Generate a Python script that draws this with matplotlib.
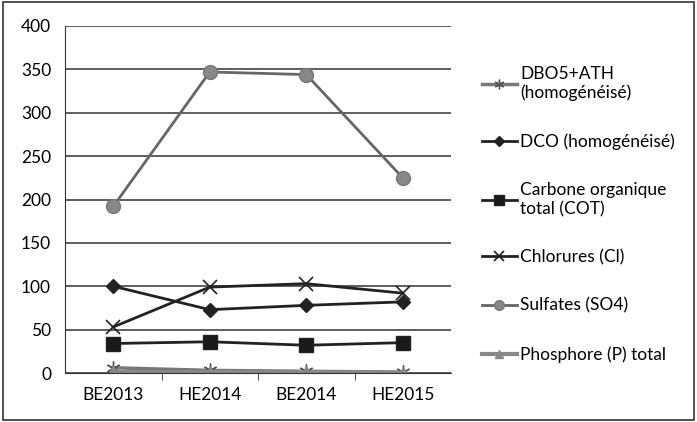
import matplotlib
matplotlib.use("Agg")
import matplotlib.pyplot as plt
import numpy as np

campagnes = ["BE2013", "HE2014", "BE2014", "HE2015"]
dbo5 = [6, 3, 2, 1]
dco = [100, 73, 78, 82]
cot = [34, 36, 32, 35]
chlorures = [53, 99, 103, 92]
sulfates = [192, 347, 344, 225]
phosphore = [1, 1, 1, 0.5]

plt.rcParams['font.family'] = ['Lato', 'DejaVu Sans']

fig = plt.figure(figsize=(6.97, 4.22), dpi=100)
ax = fig.add_axes([65 / 697, 1 - 373 / 422, (451 - 65) / 697, 347 / 422])

x = np.arange(len(campagnes)) + 0.5
ax.plot(x, dbo5, color="#777777", lw=2.5, marker=(6, 2, 0), ms=10, mec="#555555", label="DBO5+ATH\n(homogénéisé)")
ax.plot(x, dco, color="#222222", lw=2, marker="D", ms=7, label="DCO (homogénéisé)")
ax.plot(x, cot, color="#222222", lw=2, marker="s", ms=10, mfc="#1a1a1a", label="Carbone organique\ntotal (COT)")
ax.plot(x, chlorures, color="#222222", lw=2, marker="x", ms=10, mew=1.2, label="Chlorures (Cl)")
ax.plot(x, sulfates, color="#666666", lw=2, marker="o", ms=10, mfc="#888888", mec="#777777", label="Sulfates (SO4)")
ax.plot(x, phosphore, color="#888888", lw=3, marker="^", ms=9, mfc="#888888", label="Phosphore (P) total")

ax.set_xlim(0, 4)
ax.set_ylim(0, 400)
ax.set_yticks(range(0, 401, 50))
ax.set_xticks(x)
ax.set_xticklabels(campagnes)
ax.set_xticks([1, 2, 3], minor=True)
ax.tick_params(axis="x", which="major", length=0, pad=10, labelsize=12.5)
ax.tick_params(axis="x", which="minor", length=5, color="#333333")
ax.tick_params(axis="y", length=0, pad=10, labelsize=12.5)
ax.yaxis.grid(True, color="#333333", lw=1.1)
ax.set_axisbelow(True)
for side in ["top", "right"]:
    ax.spines[side].set_visible(False)
ax.spines["left"].set_color("#333333")
ax.spines["bottom"].set_color("#333333")

ax.legend(loc="upper left", bbox_to_anchor=(1.04, 0.93), frameon=False, fontsize=12.5,
          labelspacing=1.86, handlelength=2.0, handletextpad=0.2, markerscale=0.7)

fig.patches.append(plt.Rectangle((0.004, 0.004), 0.992, 0.992, transform=fig.transFigure,
                                 fill=False, edgecolor="#333333", lw=1.2))

fig.savefig("out.png", dpi=100)
